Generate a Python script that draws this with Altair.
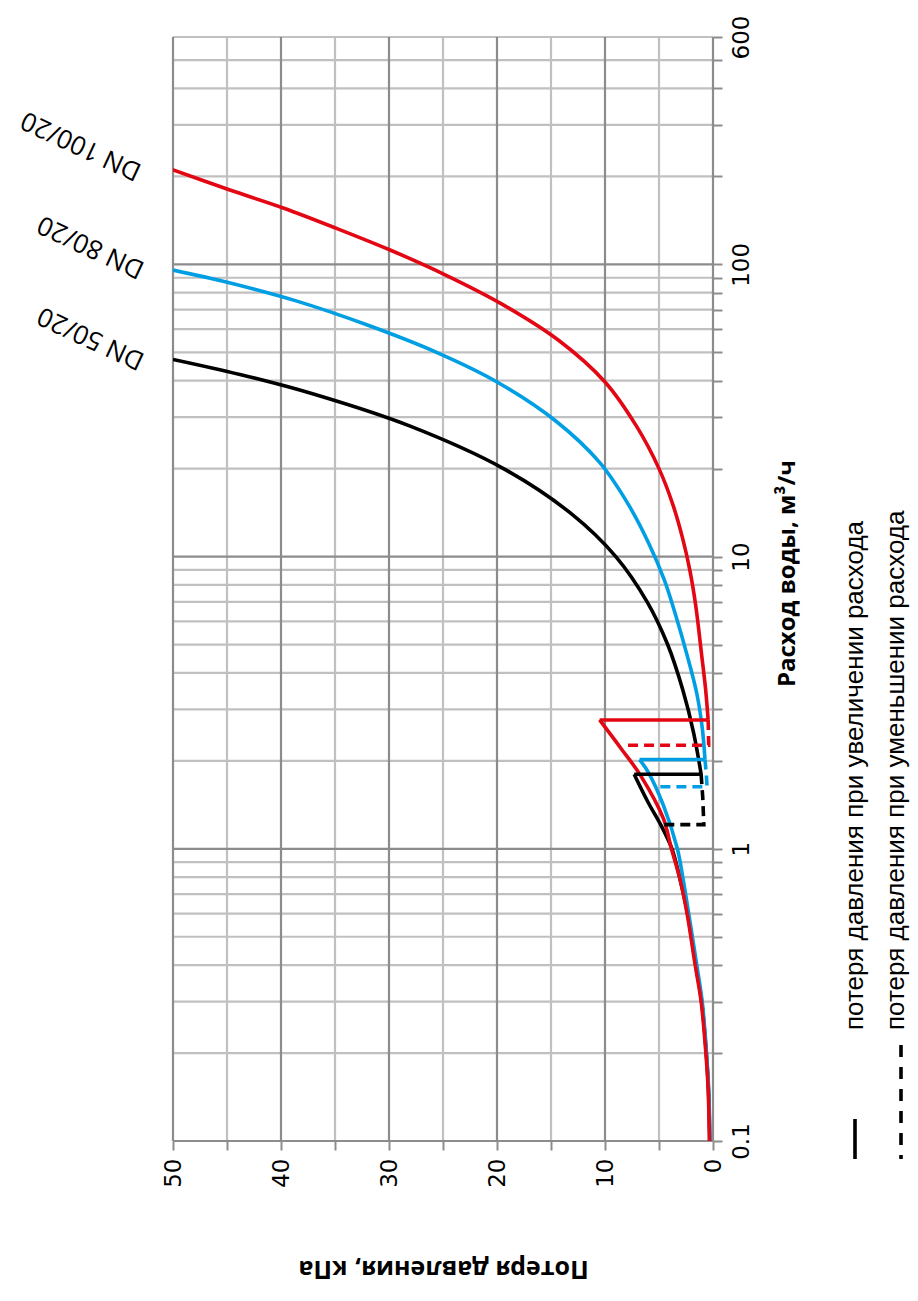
import altair as alt
import pandas as pd

# ---------------- data ----------------
# pressure loss p in kPa, water flow q in m3/h
# bypass branch (low flow), main branch (high flow), dashed = falling-flow return path
dn50_bypass_q = [0.1, 0.15, 0.2, 0.3, 0.4, 0.6, 0.8, 1.0, 1.2, 1.44, 1.8]
dn50_bypass_p = [0.3, 0.42, 0.62, 1.05, 1.6, 2.35, 3.1, 3.8, 4.8, 6.0, 7.3]
dn50_main_q = [1.8, 2.5, 3.5, 5.0, 7.0, 10.0, 14.0, 20.0, 28.0, 36.0, 42.0, 47.3]
dn50_main_p = [1.1, 1.8, 2.8, 4.2, 6.1, 9.0, 13.1, 19.4, 28.1, 37.0, 43.8, 50.0]
dn50_dash_q = [1.8, 1.5, 1.21, 1.21]
dn50_dash_p = [1.1, 0.95, 0.85, 4.8]

dn80_bypass_q = [0.1, 0.15, 0.2, 0.3, 0.4, 0.6, 0.8, 1.0, 1.41, 1.83, 2.02]
dn80_bypass_p = [0.28, 0.4, 0.6, 1.0, 1.5, 2.25, 2.8, 3.3, 4.6, 6.0, 6.8]
dn80_main_q = [2.02, 2.6, 3.4, 4.6, 6.2, 8.3, 11.0, 15.0, 21.0, 29.0, 39.6, 50.0, 62.0, 75.0, 86.5, 95.6]
dn80_main_p = [0.74, 1.0, 1.5, 2.4, 3.4, 4.5, 5.9, 7.8, 10.5, 14.5, 20.0, 25.6, 32.0, 38.6, 44.8, 50.0]
dn80_dash_q = [2.02, 1.8, 1.63, 1.63]
dn80_dash_p = [0.74, 0.62, 0.55, 5.3]

dn100_bypass_q = [0.1, 0.15, 0.2, 0.3, 0.4, 0.6, 0.8, 1.0, 1.27, 1.78, 2.2, 2.76]
dn100_bypass_p = [0.33, 0.45, 0.66, 1.1, 1.65, 2.4, 3.1, 3.85, 4.6, 6.7, 8.5, 10.5]
dn100_main_q = [2.76, 3.5, 4.6, 6.8, 9.0, 11.5, 15.0, 20.0, 28.0, 39.6, 55.0, 73.0, 92.5, 112.0, 133.0, 156.0, 180.0, 212.0]
dn100_main_p = [0.45, 0.68, 1.05, 1.6, 2.15, 2.8, 3.7, 5.0, 7.1, 10.0, 14.3, 19.5, 24.9, 29.9, 34.9, 39.8, 44.8, 50.2]
dn100_dash_q = [2.76, 2.5, 2.26, 2.26]
dn100_dash_p = [0.45, 0.42, 0.4, 8.4]

series_names = ["DN 50/20", "DN 80/20", "DN 100/20"]
series_colors = ["#000000", "#009fe3", "#e30613"]

label_text = ["DN 100/20", "DN 80/20", "DN 50/20"]
label_q = [255, 115, 56]
label_p = [58.5, 57.6, 57.6]

p_major = [0, 10, 20, 30, 40, 50]
p_minor = [5, 15, 25, 35, 45]
q_major = [0.1, 1, 10, 100]
q_minor = [0.2, 0.3, 0.4, 0.5, 0.6, 0.7, 0.8, 0.9,
           2, 3, 4, 5, 6, 7, 8, 9,
           20, 30, 40, 50, 60, 70, 80, 90,
           200, 300, 400, 500, 600]
p_ticks = [0, 5, 10, 15, 20, 25, 30, 35, 40, 45, 50]

legend_text = ["потеря давления при увеличении расхода",
               "потеря давления при уменьшении расхода"]

x_title = "Потеря давления, кПа"
y_title = "Расход воды, м³/ч"

# ---------------- build tables ----------------
smooth_rows, straight_rows = [], []
def add(target, name, part, qs, ps):
    for i, (q, p) in enumerate(zip(qs, ps)):
        target.append({"series": name, "style": "dash" if part == "dash" else "solid",
                       "key": name + part, "q": q, "p": p, "i": i})

for name, bq, bp, mq, mp, dq, dp in [
        ("DN 50/20", dn50_bypass_q, dn50_bypass_p, dn50_main_q, dn50_main_p, dn50_dash_q, dn50_dash_p),
        ("DN 80/20", dn80_bypass_q, dn80_bypass_p, dn80_main_q, dn80_main_p, dn80_dash_q, dn80_dash_p),
        ("DN 100/20", dn100_bypass_q, dn100_bypass_p, dn100_main_q, dn100_main_p, dn100_dash_q, dn100_dash_p)]:
    add(smooth_rows, name, "bypass", bq, bp)
    add(smooth_rows, name, "main", mq, mp)
    add(straight_rows, name, "jump", [bq[-1], mq[0]], [bp[-1], mp[0]])
    add(straight_rows, name, "dash", dq, dp)

smooth_df = pd.DataFrame(smooth_rows)
straight_df = pd.DataFrame(straight_rows)
labels = pd.DataFrame({"t": label_text, "q": label_q, "p": label_p})

MAJOR = "#8c8c8c"
MINOR = "#c0c0c0"

xscale = alt.Scale(type="linear", domain=[0, 50], reverse=True, nice=False)
yscale = alt.Scale(type="log", domain=[0.1, 600], nice=False)

FONT_TICK = "DejaVu Sans"
FONT_TITLE = "Open Sans"
FONT_LEG = "Liberation Sans"

x_axis = alt.Axis(values=p_ticks, grid=False, domain=False,
                  labelExpr="datum.value % 10 == 0 ? datum.label : ''",
                  labelAngle=-90, labelAlign="right", labelBaseline="middle",
                  labelFont=FONT_TICK, labelFontSize=23, labelColor="#000",
                  labelPadding=8,
                  tickColor=MAJOR, tickSize=9, tickWidth=2,
                  title=x_title, titleAngle=180, titleFont=FONT_TITLE,
                  titleFontSize=25, titleFontWeight="bold", titleColor="#000",
                  titlePadding=81, titleBaseline="middle")

y_axis = alt.Axis(values=q_minor + q_major, grid=False, domain=False, orient="right",
                  labelExpr="indexof([0.1,1,10,100,600], datum.value) >= 0 ? datum.label : ''",
                  labelAngle=-90, labelAlign="center", labelBaseline="top",
                  labelFont=FONT_TICK, labelFontSize=23, labelColor="#000",
                  labelPadding=8, labelOverlap=False, labelFlush=False,
                  tickColor=MAJOR, tickSize=9, tickWidth=2,
                  title=y_title, titleAngle=-90, titleFont=FONT_TITLE,
                  titleFontSize=24, titleFontWeight="bold", titleColor="#000",
                  titlePadding=22, titleBaseline="top", titleY=536)

X = alt.X("p:Q", scale=xscale, axis=x_axis)
Y = alt.Y("q:Q", scale=yscale, axis=y_axis)

grid_minor_v = alt.Chart(pd.DataFrame({"p": p_minor})).mark_rule(
    color=MINOR, strokeWidth=2.2).encode(x=X)
grid_minor_h = alt.Chart(pd.DataFrame({"q": q_minor})).mark_rule(
    color=MINOR, strokeWidth=2.2).encode(y=Y)
grid_major_v = alt.Chart(pd.DataFrame({"p": p_major})).mark_rule(
    color=MAJOR, strokeWidth=2.2).encode(x=X)
grid_major_h = alt.Chart(pd.DataFrame({"q": q_major})).mark_rule(
    color=MAJOR, strokeWidth=2.2).encode(y=Y)

color_enc = alt.Color("series:N", scale=alt.Scale(domain=series_names, range=series_colors),
                      legend=None)
dash_enc = alt.StrokeDash("style:N", scale=alt.Scale(domain=["solid", "dash"],
                                                     range=[[1, 0], [10, 6]]),
                          legend=None)

smooth = alt.Chart(smooth_df).mark_line(
    strokeWidth=3.6, clip=True, interpolate="catmull-rom", strokeCap="butt").encode(
    x=X, y=Y, color=color_enc, detail="key:N", order="i:Q")

straight = alt.Chart(straight_df).mark_line(
    strokeWidth=3.6, clip=True, strokeCap="butt", strokeJoin="miter").encode(
    x=X, y=Y, color=color_enc, strokeDash=dash_enc, detail="key:N", order="i:Q")

dn_labels = alt.Chart(labels).mark_text(
    angle=205, fontSize=26, font=FONT_TITLE, color="#000",
    align="center", baseline="middle", clip=False).encode(x=X, y=Y, text="t:N")

# custom legend at the lower right (pixel positions relative to plot area)
leg_solid = alt.Chart(pd.DataFrame({"a": [0]})).mark_rule(
    color="#000", strokeWidth=3.6).encode(
    x=alt.value(682), y=alt.value(1082), y2=alt.value(1122))
leg_dash = alt.Chart(pd.DataFrame({"a": [0]})).mark_rule(
    color="#000", strokeWidth=3.6, strokeDash=[12, 10]).encode(
    x=alt.value(728), y=alt.value(1008), y2=alt.value(1122))
leg_t1 = alt.Chart(pd.DataFrame({"t": [legend_text[0]]})).mark_text(
    angle=270, fontSize=26, font=FONT_LEG,
    align="left", baseline="middle", color="#000").encode(
    x=alt.value(682), y=alt.value(993), text="t:N")
leg_t2 = alt.Chart(pd.DataFrame({"t": [legend_text[1]]})).mark_text(
    angle=270, fontSize=26, font=FONT_LEG,
    align="left", baseline="middle", color="#000").encode(
    x=alt.value(723), y=alt.value(993), text="t:N")

chart = alt.layer(grid_minor_v, grid_minor_h, grid_major_v, grid_major_h,
                  smooth, straight, dn_labels, leg_solid, leg_dash, leg_t1, leg_t2).properties(
    width=540, height=1104,
    autosize=alt.AutoSizeParams(type="none"),
    padding={"left": 165, "top": 29, "right": 197, "bottom": 152},
).configure_view(stroke=None).configure(background="white")

chart.save("out.html", embed_options={"renderer": "svg", "actions": False})
